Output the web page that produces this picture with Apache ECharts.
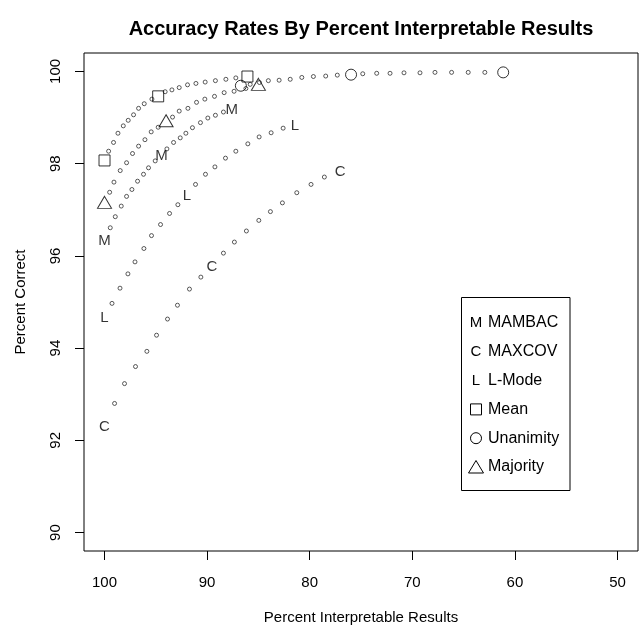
<!DOCTYPE html>
<html>
<head>
<meta charset="utf-8">
<script src="https://cdn.jsdelivr.net/npm/echarts@6/dist/echarts.min.js"></script>
<style>
html,body{margin:0;padding:0;background:#fff}
#chart{width:640px;height:630px}
</style>
</head>
<body>
<div id="chart"></div>
<script>
// values (x = percent interpretable, y = percent correct)
var mambacX = [100, 99.44, 98.95, 98.37, 97.85, 97.33, 96.78, 96.20, 95.71, 95.06, 94.44, 93.92, 93.27, 92.62, 92.07, 91.43, 90.65, 89.93, 89.19, 88.41, 87.59];
var mambacY = [96.32, 96.61, 96.85, 97.08, 97.29, 97.44, 97.62, 97.77, 97.91, 98.06, 98.17, 98.32, 98.46, 98.56, 98.66, 98.78, 98.89, 98.99, 99.05, 99.12, 99.17];

var maxcovX = [100, 99.02, 98.05, 96.98, 95.87, 94.93, 93.86, 92.89, 91.72, 90.61, 89.54, 88.41, 87.34, 86.17, 84.96, 83.83, 82.66, 81.26, 79.87, 78.57, 77.04];
var maxcovY = [92.29, 92.80, 93.23, 93.60, 93.93, 94.28, 94.63, 94.93, 95.28, 95.54, 95.77, 96.06, 96.30, 96.54, 96.77, 96.96, 97.15, 97.37, 97.55, 97.71, 97.82];

var lmodeX = [100, 99.27, 98.49, 97.72, 97.03, 96.16, 95.42, 94.54, 93.66, 92.85, 91.97, 91.13, 90.16, 89.24, 88.21, 87.20, 86.03, 84.93, 83.76, 82.59, 81.43];
var lmodeY = [94.65, 94.97, 95.30, 95.61, 95.87, 96.16, 96.44, 96.68, 96.92, 97.11, 97.30, 97.55, 97.77, 97.93, 98.12, 98.27, 98.43, 98.58, 98.67, 98.77, 98.82];

var meanX = [100, 99.60, 99.12, 98.69, 98.17, 97.69, 97.17, 96.68, 96.13, 95.38, 94.77, 94.09, 93.43, 92.72, 91.91, 91.09, 90.19, 89.19, 88.17, 87.20, 86.07];
var meanY = [98.07, 98.27, 98.46, 98.66, 98.82, 98.94, 99.06, 99.20, 99.30, 99.40, 99.46, 99.56, 99.60, 99.65, 99.71, 99.74, 99.77, 99.80, 99.83, 99.86, 99.89];

var unanX = [86.71, 85.80, 84.90, 84.03, 82.98, 81.90, 80.77, 79.64, 78.44, 77.31, 75.97, 74.83, 73.47, 72.17, 70.81, 69.25, 67.79, 66.17, 64.55, 62.93, 61.14];
var unanY = [99.69, 99.72, 99.76, 99.80, 99.81, 99.83, 99.87, 99.89, 99.90, 99.92, 99.93, 99.95, 99.96, 99.96, 99.97, 99.97, 99.98, 99.98, 99.98, 99.98, 99.98];

var majX = [100, 99.50, 99.08, 98.47, 97.85, 97.27, 96.68, 96.06, 95.45, 94.77, 94.00, 93.37, 92.72, 91.87, 91.03, 90.22, 89.28, 88.34, 87.37, 86.22, 85.00];
var majY = [97.16, 97.38, 97.60, 97.85, 98.02, 98.22, 98.38, 98.52, 98.69, 98.79, 98.93, 99.01, 99.14, 99.20, 99.33, 99.40, 99.46, 99.54, 99.57, 99.63, 99.72];

// points drawn with the method symbol instead of a dot
var markIdx = [0, 10, 20];

var xTicks = [100, 90, 80, 70, 60, 50];
var yTicks = [90, 92, 94, 96, 98, 100];

var FONT = 'Liberation Sans, Arial, Helvetica, sans-serif';

var methods = [
    {name: 'MAMBAC', letter: 'M', x: mambacX, y: mambacY},
    {name: 'MAXCOV', letter: 'C', x: maxcovX, y: maxcovY},
    {name: 'L-Mode', letter: 'L', x: lmodeX, y: lmodeY},
    {name: 'Mean', shape: 'rect', size: 11, x: meanX, y: meanY},
    {name: 'Unanimity', shape: 'circle', size: 11, x: unanX, y: unanY},
    {name: 'Majority', shape: 'triangle', size: [14, 12], x: majX, y: majY}
];

var series = [];
methods.forEach(function (m) {
    var dots = [], marks = [];
    for (var i = 0; i < m.x.length; i++) {
        if (markIdx.indexOf(i) >= 0) marks.push([m.x[i], m.y[i]]);
        else dots.push([m.x[i], m.y[i]]);
    }
    series.push({
        name: m.name, type: 'scatter', data: dots, silent: true,
        symbol: 'circle', symbolSize: 4,
        itemStyle: {color: '#fff', borderColor: '#000', borderWidth: 0.8}
    });
    var s = {name: m.name + '_mark', type: 'scatter', data: marks, silent: true, z: 3};
    if (m.shape) {
        s.symbol = m.shape;
        s.symbolSize = m.size;
        s.itemStyle = {color: 'rgba(0,0,0,0)', borderColor: '#000', borderWidth: 1};
    } else {
        s.symbol = 'circle';
        s.symbolSize = 1;
        s.itemStyle = {color: 'rgba(0,0,0,0)'};
        s.label = {show: true, position: 'inside', formatter: m.letter,
            color: '#000', fontSize: 15, fontFamily: FONT};
    }
    series.push(s);
});

// legend box (drawn by hand, R style)
var legBox = {x: 461.5, y: 297.5, w: 108.5, h: 193};
var legend = [{type: 'rect', shape: {x: legBox.x, y: legBox.y, width: legBox.w, height: legBox.h},
    style: {fill: '#fff', stroke: '#000', lineWidth: 1}, z: 10}];
methods.forEach(function (m, i) {
    var cy = 323 + i * 28.8;
    var sx = 476;
    if (m.letter) {
        legend.push({type: 'text', x: sx, y: cy, z: 11,
            style: {text: m.letter, fill: '#000', font: '15px ' + FONT, textAlign: 'center', textVerticalAlign: 'middle'}});
    } else if (m.shape === 'rect') {
        legend.push({type: 'rect', shape: {x: sx - 5.5, y: cy - 5.5, width: 11, height: 11}, z: 11,
            style: {fill: 'none', stroke: '#000', lineWidth: 1}});
    } else if (m.shape === 'circle') {
        legend.push({type: 'circle', shape: {cx: sx, cy: cy, r: 5.5}, z: 11,
            style: {fill: 'none', stroke: '#000', lineWidth: 1}});
    } else {
        legend.push({type: 'polygon', shape: {points: [[sx, cy - 6.5], [sx + 7.5, cy + 6], [sx - 7.5, cy + 6]]}, z: 11,
            style: {fill: 'none', stroke: '#000', lineWidth: 1}});
    }
    legend.push({type: 'text', x: 488, y: cy, z: 11,
        style: {text: m.name, fill: '#000', font: '16px ' + FONT, textAlign: 'left', textVerticalAlign: 'middle'}});
});

var texts = [
    {type: 'text', x: 361, y: 29, style: {text: 'Accuracy Rates By Percent Interpretable Results',
        fill: '#000', font: 'bold 20px ' + FONT, textAlign: 'center', textVerticalAlign: 'middle'}},
    {type: 'text', x: 361, y: 618, style: {text: 'Percent Interpretable Results',
        fill: '#000', font: '15px ' + FONT, textAlign: 'center', textVerticalAlign: 'middle'}},
    {type: 'text', x: 21, y: 302, rotation: Math.PI / 2, style: {text: 'Percent Correct',
        fill: '#000', font: '15px ' + FONT, textAlign: 'center', textVerticalAlign: 'middle'}}
];

var myChart = echarts.init(document.getElementById('chart'), null, {renderer: 'canvas'});
var option = {
    animation: false,
    backgroundColor: '#fff',
    grid: {left: 84, top: 53, right: 2, bottom: 79, show: true, borderColor: '#000', borderWidth: 1,
        outerBoundsMode: 'none'},
    xAxis: {
        type: 'value', min: 48, max: 102, inverse: true,
        axisLine: {show: false},
        splitLine: {show: false},
        axisTick: {show: true, customValues: xTicks, length: 9, lineStyle: {color: '#000'}},
        axisLabel: {customValues: xTicks, margin: 24, color: '#000', fontSize: 15, fontFamily: FONT}
    },
    yAxis: {
        type: 'value', min: 89.6, max: 100.4,
        axisLine: {show: false},
        splitLine: {show: false},
        axisTick: {show: true, customValues: yTicks, length: 9, lineStyle: {color: '#000'}},
        axisLabel: {customValues: yTicks, margin: 21, rotate: 90, color: '#000', fontSize: 15, fontFamily: FONT}
    },
    graphic: texts.concat(legend),
    series: series
};
myChart.setOption(option);
</script>
</body>
</html>
